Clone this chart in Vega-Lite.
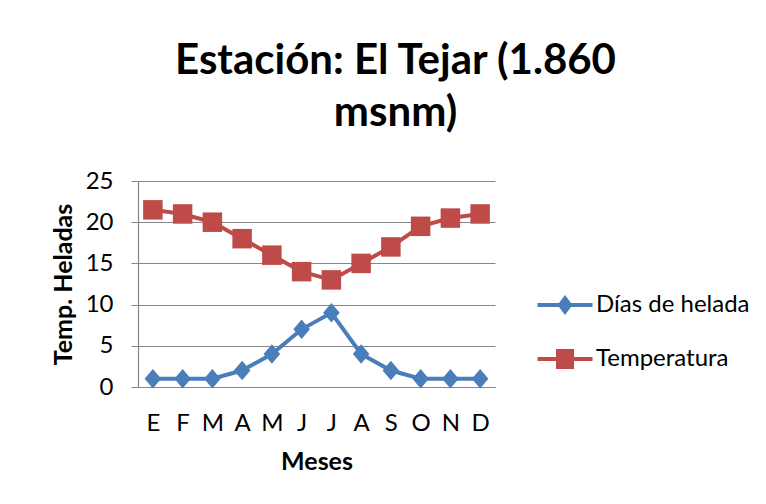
{
  "$schema": "https://vega.github.io/schema/vega-lite/v6.json",
  "width": 357,
  "height": 206,
  "autosize": "none",
  "padding": {"left": 138, "top": 181, "right": 271, "bottom": 117},
  "background": "white",
  "config": {
    "font": "Lato",
    "view": {"stroke": null},
    "axis": {"labelFont": "Lato", "titleFont": "Lato", "labelColor": "black", "titleColor": "black"}
  },
  "title": {
    "text": ["Estación: El Tejar (1.860\u00a0", "msnm)"],
    "font": "Lato",
    "fontSize": 42,
    "fontWeight": "bold",
    "color": "black",
    "anchor": "middle",
    "frame": "group",
    "dx": 79,
    "lineHeight": 52,
    "offset": 34
  },
  "data": {
    "values": [
      {"mes": "E", "serie": "Días de helada", "valor": 1},
      {"mes": "F", "serie": "Días de helada", "valor": 1},
      {"mes": "M", "serie": "Días de helada", "valor": 1},
      {"mes": "A", "serie": "Días de helada", "valor": 2},
      {"mes": "M ", "serie": "Días de helada", "valor": 4},
      {"mes": "J", "serie": "Días de helada", "valor": 7},
      {"mes": "J ", "serie": "Días de helada", "valor": 9},
      {"mes": "A ", "serie": "Días de helada", "valor": 4},
      {"mes": "S", "serie": "Días de helada", "valor": 2},
      {"mes": "O", "serie": "Días de helada", "valor": 1},
      {"mes": "N", "serie": "Días de helada", "valor": 1},
      {"mes": "D", "serie": "Días de helada", "valor": 1},
      {"mes": "E", "serie": "Temperatura", "valor": 21.5},
      {"mes": "F", "serie": "Temperatura", "valor": 21},
      {"mes": "M", "serie": "Temperatura", "valor": 20},
      {"mes": "A", "serie": "Temperatura", "valor": 18},
      {"mes": "M ", "serie": "Temperatura", "valor": 16},
      {"mes": "J", "serie": "Temperatura", "valor": 14},
      {"mes": "J ", "serie": "Temperatura", "valor": 13},
      {"mes": "A ", "serie": "Temperatura", "valor": 15},
      {"mes": "S", "serie": "Temperatura", "valor": 17},
      {"mes": "O", "serie": "Temperatura", "valor": 19.5},
      {"mes": "N", "serie": "Temperatura", "valor": 20.5},
      {"mes": "D", "serie": "Temperatura", "valor": 21}
    ]
  },
  "encoding": {
    "x": {
      "field": "mes",
      "type": "ordinal",
      "sort": ["E", "F", "M", "A", "M ", "J", "J ", "A ", "S", "O", "N", "D"],
      "scale": {"type": "point", "padding": 0.5},
      "axis": {
        "title": "Meses",
        "titleFontSize": 25,
        "titleFontWeight": "bold",
        "titlePadding": 14,
        "labelAngle": 0,
        "labelFontSize": 24,
        "labelPadding": 24,
        "ticks": false,
        "domainColor": "#868686",
        "domainWidth": 1.2,
        "grid": false
      }
    },
    "y": {
      "field": "valor",
      "type": "quantitative",
      "scale": {"domain": [0, 25]},
      "axis": {
        "title": "Temp. Heladas",
        "titleFontSize": 25,
        "titleFontWeight": "bold",
        "titlePadding": 9,
        "values": [0, 5, 10, 15, 20, 25],
        "labelFontSize": 24,
        "labelPadding": 18,
        "tickSize": 7,
        "tickColor": "#868686",
        "domainColor": "#868686",
        "domainWidth": 1.2,
        "gridColor": "#868686",
        "gridWidth": 1.2
      }
    }
  },
  "layer": [
    {
      "mark": {"type": "line", "strokeWidth": 4},
      "encoding": {
        "stroke": {
          "field": "serie",
          "type": "nominal",
          "scale": {"domain": ["Días de helada", "Temperatura"], "range": ["#4A7EBB", "#BE4B48"]},
          "legend": {
            "title": null,
            "orient": "none",
            "legendX": 415,
            "legendY": 112,
            "padding": 0,
            "rowPadding": 30,
            "symbolSize": 400,
            "labelFontSize": 24,
            "labelFont": "Lato",
            "labelColor": "black",
            "labelOffset": 19,
            "encode": {
              "symbols": {
                "update": {
                  "shape": {"signal": "datum.value === 'Días de helada' ? 'M-2.75,-0.2L-0.6,-0.2L0,-1L0.6,-0.2L2.75,-0.2L2.75,0.2L0.6,0.2L0,1L-0.6,0.2L-2.75,0.2Z' : 'M-2.75,-0.2L-0.9,-0.2L-0.9,-1L0.9,-1L0.9,-0.2L2.75,-0.2L2.75,0.2L0.9,0.2L0.9,1L-0.9,1L-0.9,0.2L-2.75,0.2Z'"},
                  "fill": {"signal": "datum.value === 'Días de helada' ? '#4A7EBB' : '#BE4B48'"},
                  "stroke": {"value": "transparent"},
                  "strokeWidth": {"value": 0},
                  "fillOpacity": {"value": 1},
                  "opacity": {"value": 1}
                }
              }
            }
          }
        }
      }
    },
    {
      "transform": [{"filter": "datum.serie === 'Días de helada'"}],
      "mark": {"type": "point", "filled": true, "opacity": 1, "color": "#4A7EBB", "shape": "M0,-1L0.85,0L0,1L-0.85,0Z", "size": 380}
    },
    {
      "transform": [{"filter": "datum.serie === 'Temperatura'"}],
      "mark": {"type": "point", "filled": true, "opacity": 1, "color": "#BE4B48", "shape": "square", "size": 380}
    }
  ]
}
